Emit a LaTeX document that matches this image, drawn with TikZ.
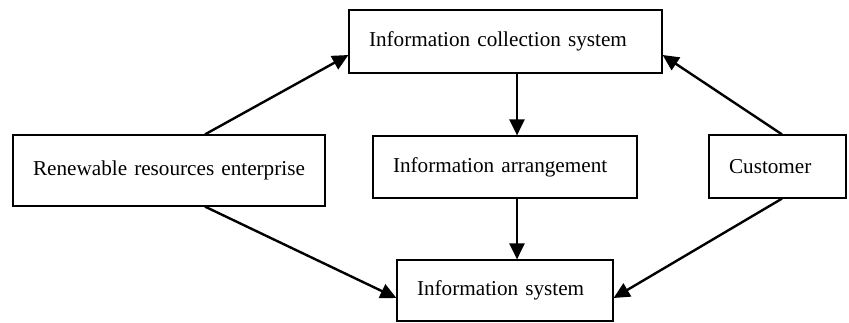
\documentclass[tikz,border=0pt]{standalone}
\usepackage{fontspec}
\setmainfont{Liberation Serif}
\usetikzlibrary{arrows.meta}
\tikzset{>={Triangle[length=8pt,width=7.5pt]}}
\tikzset{box/.style={draw,line width=0.6pt,inner xsep=10pt,inner ysep=0pt,align=left,
    font=\fontsize{10.6}{12}\selectfont}}

\begin{document}
\begin{tikzpicture}[x=0.5pt,y=-0.5pt]
    \useasboundingbox (0,0) rectangle (849,322);
    \node[box,text width=136.5pt,minimum height=31.5pt] (coll) at (505.5,41.5) {Information collection system};
    \node[box,text width=136pt,minimum height=35.5pt] (renew) at (169,170.5) {Renewable resources enterprise};
    \node[box,text width=112pt,minimum height=31pt] (arrange) at (505,167) {Information arrangement};
    \node[box,text width=48.5pt,minimum height=31.5pt] (cust) at (777.5,166.5) {Customer};
    \node[box,text width=88pt,minimum height=30.5pt] (infosys) at (505,290.5) {Information system};
    \draw[->,line width=1.2pt] ([xshift=18pt]renew.north) -- ([yshift=-6.75pt]coll.west);
    \draw[->,line width=1.2pt] ([xshift=18pt]renew.south) -- ([yshift=-3.75pt]infosys.west);
    \draw[->,line width=1.2pt] ([xshift=5.75pt]coll.south) -- ([xshift=6pt]arrange.north);
    \draw[->,line width=1.2pt] ([xshift=6pt]arrange.south) -- ([xshift=6pt]infosys.north);
    \draw[->,line width=1.2pt] ([xshift=2.25pt]cust.north) -- ([yshift=-6.75pt]coll.east);
    \draw[->,line width=1.2pt] ([xshift=2.25pt]cust.south) -- ([yshift=-3.75pt]infosys.east);
  \end{tikzpicture}
\end{document}
